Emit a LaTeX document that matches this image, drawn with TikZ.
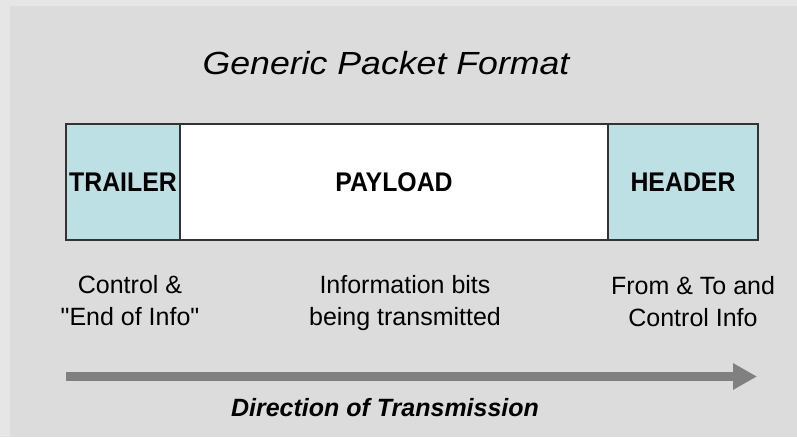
\documentclass[tikz,border=0pt]{standalone}
\usepackage{fontspec}
\usepackage{graphicx}
\setmainfont{Liberation Sans}[Ligatures=TeXOff]
\usetikzlibrary{arrows.meta}
\definecolor{outerbg}{HTML}{E6E6E6}
\definecolor{innerbg}{HTML}{DCDCDC}
\definecolor{cellfill}{HTML}{BCE0E3}
\definecolor{edgecol}{HTML}{333333}
\definecolor{arrowgray}{HTML}{808080}
\newcommand{\lnstrut}{\rule[-7pt]{0pt}{25pt}}
\newcommand{\cellname}[1]{\scalebox{0.92}[1]{#1}}
\begin{document}
\begin{tikzpicture}[x=1pt,y=-1pt,
  cell/.style={draw=edgecol,line width=1.4pt,minimum height=116pt,inner sep=0pt,
    font=\fontsize{27}{32}\selectfont\bfseries},
  shaded/.style={cell,fill=cellfill},
  plain/.style={cell,fill=white},
  note/.style={anchor=north,inner sep=0pt,align=center,font=\fontsize{25}{32}\selectfont},
  flow/.style={arrowgray,line width=9pt,-{Triangle[length=24pt,width=25pt]}}
]
\useasboundingbox (0,0) rectangle (797,437);
\fill[outerbg] (0,0) rectangle (797,437);
\fill[innerbg] (10,6) rectangle (797,437);

\node[anchor=base,inner sep=0pt,font=\fontsize{32}{38}\selectfont\itshape] (title) at (386,74)
  {\scalebox{1.115}[1]{Generic Packet Format}};

\node[shaded,minimum width=114pt] (trailer) at (123,182) {\cellname{TRAILER}};
\node[plain,minimum width=428pt] (payload) at (394,182) {\cellname{PAYLOAD}};
\node[shaded,minimum width=150pt] (header) at (683,182) {\cellname{HEADER}};

\node[note] (trailnote) at (130,275) {\lnstrut Control \&\\\lnstrut "End of Info"};
\node[note] (paynote) at (405,275) {\lnstrut Information bits\\\lnstrut being transmitted};
\node[note] (headnote) at (693,276) {\lnstrut From \& To and\\\lnstrut Control Info};

\coordinate (arrS) at (66,376.5);
\coordinate (arrE) at (757,376.5);
\draw[flow] (arrS) -- (arrE);

\node[anchor=base,inner sep=0pt,font=\fontsize{25}{30}\selectfont\bfseries\itshape] (dir) at (385,416)
  {Direction of Transmission};
\end{tikzpicture}
\end{document}
